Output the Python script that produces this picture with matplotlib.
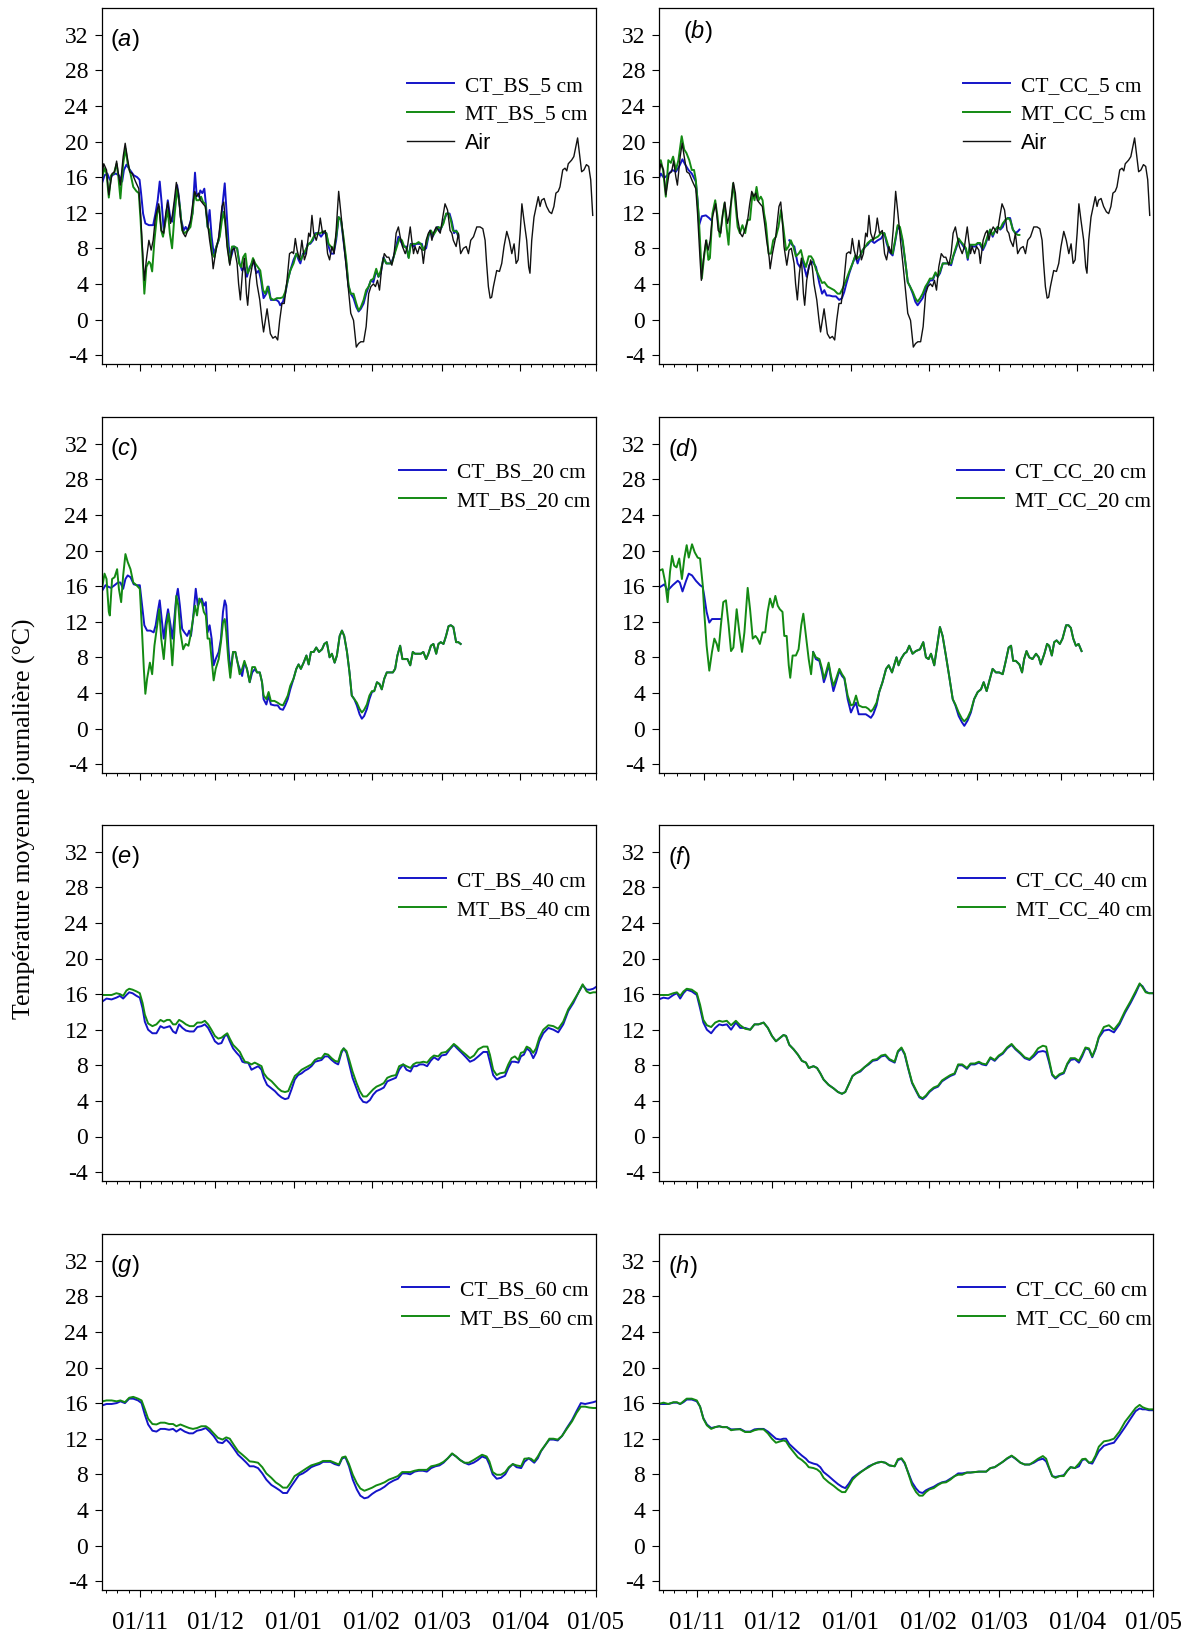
import matplotlib
matplotlib.use('Agg')
import matplotlib.pyplot as plt
import numpy as np

plt.rcParams['font.family'] = 'Liberation Serif'
plt.rcParams['mathtext.fontset'] = 'custom'
plt.rcParams['mathtext.rm'] = 'Liberation Sans'
plt.rcParams['mathtext.it'] = 'Liberation Sans:italic'

# x = days since 01/11
month_pos = [0, 30, 61, 92, 120, 151, 181]
month_lab = ['01/11', '01/12', '01/01', '01/02', '01/03', '01/04', '01/05']
ytick_vals = [-4, 0, 4, 8, 12, 16, 20, 24, 28, 32]

# ---- air temperature (panels a, b)
air_day = [-14.9,-14.3,-13.2,-12.3,-11.0,-10.0,-9.2,-8.3,-7.7,-6.6,
           -5.8,-5.0,-4.0,-3.0,-1.7,-0.4,0.3,1.3,1.8,2.6,
           3.6,4.5,5.3,6.2,7.5,8.5,9.5,10.3,11.1,12.2,
           12.9,13.7,14.5,15.3,16.1,17.2,18.1,19.0,20.1,21.0,
           21.8,22.5,23.4,24.0,25.1,26.0,26.9,27.7,28.7,29.1,
           30.0,31.3,32.6,33.3,33.9,34.6,35.7,36.6,37.5,38.6,
           39.2,39.9,40.7,41.5,42.3,42.8,43.6,44.5,45.2,45.8,
           46.5,47.6,48.5,49.1,49.8,50.5,51.1,51.8,52.8,53.8,
           54.7,55.5,56.4,57.3,58.4,59.4,60.4,61.0,61.7,62.4,
           63.4,64.3,65.3,66.1,67.0,67.6,68.3,69.0,70.0,71.0,
           71.6,72.5,73.6,74.5,75.3,76.2,77.1,77.9,78.9,79.8,
           80.8,81.9,82.8,83.7,84.8,85.9,86.8,87.7,88.8,89.8,
           90.8,91.7,92.7,93.5,94.3,95.1,96.0,97.0,98.0,98.8,
           100.0,100.9,101.7,102.6,103.3,104.2,105.3,106.2,107.3,107.9,
           108.6,109.2,110.2,111.0,111.9,112.5,113.6,114.5,115.2,115.9,
           116.5,117.6,118.5,119.2,120.2,121.1,122.1,123.1,123.8,124.4,
           125.5,126.4,127.3,128.4,129.5,130.4,131.3,132.4,133.7,135.0,
           136.1,137.0,137.6,138.3,139.0,139.6,140.3,141.6,142.7,143.6,
           144.5,145.6,146.6,147.6,148.5,149.3,150.1,150.9,151.6,152.4,
           153.5,154.3,154.8,155.5,156.4,157.5,158.1,158.8,159.4,160.4,
           161.4,162.5,163.4,164.3,165.1,166.0,166.7,167.8,168.7,169.4,
           170.0,171.3,172.2,173.0,173.7,174.4,175.3,176.2,177.2,178.1,
           178.9,179.7]
air_temp = [16.4,17.5,16.8,14.0,16.4,16.6,17.8,16.0,15.1,18.3,
            19.8,18.3,16.6,16.4,15.5,14.7,11.9,6.7,4.4,6.7,
            8.9,7.8,8.9,11.5,13.0,10.0,9.7,11.9,13.2,10.8,
            11.7,13.4,15.4,14.2,11.5,9.7,9.3,10.0,11.0,13.0,
            14.4,13.8,14.2,13.4,13.0,12.7,10.8,8.9,7.0,5.7,
            7.4,9.3,12.7,13.2,11.2,8.2,6.1,7.8,8.0,6.3,
            4.0,2.2,5.2,6.9,2.9,1.6,4.4,5.9,6.7,5.9,
            4.0,2.2,-0.1,-1.4,-0.1,1.2,-0.1,-1.6,-2.1,-1.9,
            -2.3,-0.1,1.8,1.8,4.4,7.4,7.6,7.4,9.1,7.8,
            6.7,8.9,6.7,7.4,9.7,9.3,11.7,9.7,8.9,10.0,
            11.4,9.7,10.0,7.4,6.7,8.2,7.4,10.0,14.4,11.9,
            8.9,5.9,3.3,0.7,-0.1,-3.1,-2.7,-2.5,-2.5,-0.8,
            2.9,3.7,4.0,3.7,4.4,3.3,5.9,7.4,7.0,7.0,
            6.1,7.4,9.7,10.4,9.3,8.2,7.4,8.2,10.4,8.9,
            7.4,8.2,7.4,8.2,7.8,6.3,8.9,9.7,10.0,8.9,
            9.7,10.4,10.0,9.7,11.5,13.0,12.3,10.0,9.7,8.9,
            8.2,9.7,7.4,8.0,8.2,7.4,8.9,9.3,10.4,10.4,
            10.2,8.9,6.3,3.7,2.4,2.5,3.7,5.5,5.4,6.3,
            8.2,9.9,8.9,7.4,8.5,6.3,6.7,9.7,13.0,11.2,
            8.9,5.9,5.2,8.9,11.5,13.0,13.8,12.7,13.4,13.6,
            12.7,12.1,11.9,12.7,14.2,14.4,14.9,16.8,17.0,16.7,
            17.5,17.9,18.3,19.4,20.4,18.7,16.6,16.8,17.4,17.2,
            15.7,11.7]

# ---- (a) bare soil, 5 cm
a_ct_day = [-14.9,-14.0,-12.9,-11.9,-11.0,-9.6,-8.3,-7.0,-6.3,-5.3,
            -4.4,-3.4,-2.4,-1.1,-0.1,0.5,1.3,2.2,3.6,5.3,
            6.2,7.1,7.9,8.7,9.5,10.3,11.1,12.2,12.9,13.7,
            14.8,15.5,16.4,17.4,18.2,19.0,20.1,20.9,21.9,22.5,
            23.4,24.0,24.8,25.6,26.2,26.9,27.7,28.5,29.3,30.4,
            31.3,32.4,33.0,33.7,34.3,35.3,36.2,37.3,38.6,39.6,
            40.6,41.5,42.5,43.6,44.5,45.4,46.2,47.2,48.1,49.1,
            50.2,51.1,52.0,53.1,54.2,55.1,55.7,56.8,57.7,58.7,
            59.7,61.0,62.1,63.0,63.7,64.7,65.7,66.6,67.6,68.7,
            69.6,70.9,71.9,72.9,74.0,74.9,75.8,76.9,77.9,78.9,
            79.8,80.8,81.9,82.8,83.7,84.8,85.9,86.8,87.7,88.8,
            89.8,90.8,91.7,92.7,93.8,94.7,95.6,96.7,97.8,98.7,
            99.6,100.7,101.7,102.6,103.3,104.6,105.7,106.6,107.5,108.6,
            109.6,110.6,111.9,112.5,113.6,114.5,115.2,116.2,117.2,118.1,
            118.9,119.8,120.7,121.8,122.9,123.8,124.7,125.5,126.4]
a_ct = [15.4,16.2,16.4,15.7,16.2,16.4,16.2,15.5,16.8,17.4,
        17.0,16.6,16.2,16.0,15.7,14.2,11.9,10.8,10.6,10.6,
        11.9,13.4,15.5,13.0,10.0,11.5,13.4,11.2,11.0,12.7,
        15.1,13.8,11.2,10.0,10.4,10.0,11.0,11.9,16.5,14.2,
        13.8,14.5,14.2,14.7,13.0,10.4,12.3,9.3,7.4,8.2,
        8.9,11.5,13.4,15.3,12.7,8.2,7.0,8.2,8.0,6.3,
        5.5,5.9,4.8,5.9,6.3,6.3,5.2,5.5,4.4,2.4,
        2.9,3.7,2.2,2.2,2.2,2.0,1.6,2.0,2.9,4.4,
        5.5,6.7,7.4,6.7,6.3,7.4,7.4,8.5,8.5,8.9,
        9.7,9.7,9.3,9.7,9.7,8.2,7.4,7.4,8.9,11.5,
        11.2,8.9,6.3,3.7,2.9,2.4,1.4,0.9,1.2,1.8,
        2.9,3.7,4.4,4.2,5.5,4.8,5.2,7.0,6.3,6.3,
        6.3,7.0,8.2,9.3,8.9,8.2,8.2,7.0,8.5,8.2,
        8.5,8.5,8.5,7.8,8.0,9.3,10.0,9.3,10.0,10.4,
        9.9,10.4,11.2,11.9,11.9,11.0,9.7,10.0,9.3]
a_mt_day = [-14.9,-14.0,-13.2,-12.3,-11.4,-10.3,-9.2,-8.5,-7.7,-6.6,
            -5.7,-4.8,-3.7,-2.6,-1.3,-0.4,0.3,1.1,1.8,2.6,
            3.6,4.2,4.9,5.8,6.9,7.7,8.5,9.2,10.3,11.1,
            11.9,12.8,13.7,14.8,15.9,16.8,17.8,19.0,20.1,20.9,
            21.7,22.5,23.4,24.3,25.1,26.0,26.9,27.7,28.7,29.6,
            30.4,31.7,32.6,33.3,33.9,34.9,35.7,36.6,37.5,38.6,
            39.4,40.2,41.0,41.9,42.8,43.9,44.9,45.8,46.8,47.8,
            48.9,49.8,50.7,51.8,53.1,54.4,55.7,56.8,57.7,58.7,
            59.7,61.0,62.1,63.0,63.9,65.0,66.1,67.0,67.9,69.0,
            70.3,71.6,72.9,74.0,74.9,75.8,76.9,77.9,78.9,79.8,
            80.8,81.9,82.8,83.7,84.8,85.9,86.8,87.7,88.8,89.8,
            90.8,91.7,92.7,93.8,94.7,95.6,96.7,97.8,98.7,100.0,
            100.9,102.0,103.0,104.0,104.9,105.9,106.7,107.5,108.6,109.6,
            110.6,111.5,112.5,113.6,114.5,115.5,116.5,117.6,118.5,119.4,
            120.5,121.5,122.5,123.4,124.2,125.1,125.8,126.4]
a_mt = [16.0,17.0,16.4,13.7,16.2,16.4,17.5,16.0,13.6,17.5,
        19.2,17.5,16.4,14.9,14.4,14.2,11.2,7.0,2.9,5.9,
        6.5,6.3,5.4,8.9,11.9,12.7,10.0,9.3,11.2,12.3,
        9.7,8.0,11.5,14.7,12.7,10.0,9.7,10.0,10.4,11.9,
        14.2,13.4,13.4,13.8,13.2,13.0,10.4,10.0,7.4,7.0,
        8.2,9.3,11.2,12.1,10.8,8.2,6.3,8.2,8.2,8.0,
        6.3,5.9,7.0,7.4,5.2,5.9,6.9,6.3,5.9,5.5,
        3.3,2.9,3.7,2.4,2.2,2.4,2.4,2.5,3.1,4.4,
        5.5,6.3,7.4,7.0,6.7,7.4,8.0,8.5,8.7,9.3,
        9.7,9.7,9.9,9.7,8.5,8.2,7.8,9.3,11.5,11.2,
        9.3,6.7,3.9,2.9,2.9,1.8,1.0,1.4,2.2,3.3,
        3.7,4.4,4.6,5.7,4.8,5.5,6.9,6.3,6.3,6.3,
        7.2,8.2,9.1,8.9,8.2,8.0,6.9,8.4,8.5,8.5,
        8.7,8.5,7.8,8.4,9.5,10.0,9.5,10.0,10.4,10.2,
        10.8,11.9,11.9,11.2,10.0,9.9,9.9,9.5]

# ---- (b) cover crop, 5 cm  (nan = missing record)
b_ct_day = [-15.2,-14.3,-13.0,-11.7,-10.7,-9.7,-8.3,-7.0,-5.7,-4.6,
            -3.3,-2.0,-0.4,0.3,0.9,2.0,3.6,4.9,5.6,20.0,
            36.7,37.7,38.7,40.0,40.9,42.0,42.6,43.6,44.6,45.9,
            47.3,48.6,49.7,50.6,51.5,52.6,53.9,55.2,56.5,57.6,
            58.5,59.4,60.5,61.8,62.9,63.8,64.7,65.8,66.9,67.8,
            69.1,70.4,71.8,73.1,74.4,75.3,76.4,77.7,78.8,79.7,
            80.6,81.7,82.8,83.7,84.6,85.7,86.7,87.6,88.6,89.6,
            90.7,91.6,92.5,93.6,94.7,95.6,96.5,97.6,98.6,100.0,
            100.9,101.8,102.9,103.9,104.9,105.8,106.8,107.5,108.4,109.5,
            110.6,111.5,112.4,113.5,114.5,115.5,116.4,117.4,118.5,119.4,
            120.4,121.4,122.5,123.4,124.3,125.4,126.4,127.4,128.0]
b_ct = [15.7,16.4,15.9,16.2,16.5,16.8,16.6,17.2,18.0,17.4,
        16.8,16.4,15.5,13.4,10.6,11.6,11.7,11.4,11.2,np.nan,
        8.9,8.4,8.2,6.3,5.9,6.7,5.9,4.8,6.1,6.5,
        5.9,4.1,2.9,3.3,2.7,2.7,2.6,2.6,2.2,2.4,
        3.1,4.1,5.2,6.3,7.1,6.3,7.1,7.8,8.2,8.4,
        8.9,8.6,8.9,9.1,9.7,8.6,7.6,7.2,8.9,10.4,
        10.1,8.6,6.3,4.2,3.7,2.9,2.0,1.6,2.0,2.4,
        3.3,3.9,4.4,4.4,5.2,4.8,5.2,6.3,6.3,6.3,
        6.1,7.1,8.0,8.9,8.6,8.2,7.8,6.7,8.4,8.2,
        8.2,8.6,8.4,7.8,8.4,9.3,10.1,9.3,10.1,10.4,
        10.1,10.4,11.2,11.4,11.4,10.1,9.7,9.9,10.1]
b_mt_day = [-15.2,-14.3,-13.4,-12.3,-11.3,-10.3,-9.4,-8.3,-7.3,-6.0,
            -5.0,-4.1,-3.0,-2.0,-1.1,-0.4,0.7,1.6,2.0,2.9,
            3.8,4.6,5.2,6.2,7.3,8.2,9.1,10.2,11.0,11.8,
            12.6,13.5,14.4,15.2,16.2,17.1,18.1,19.2,20.1,21.1,
            22.1,22.9,23.7,24.5,25.4,26.1,26.7,27.4,28.5,29.4,
            30.3,31.4,32.4,33.4,34.3,35.4,36.4,37.3,38.3,39.3,
            40.4,41.3,42.2,43.3,44.4,45.3,46.2,47.3,48.6,49.7,
            50.6,51.9,53.2,54.5,55.9,56.8,57.9,59.2,60.5,61.8,
            62.9,63.8,64.7,65.8,66.9,67.8,69.1,70.4,71.8,73.1,
            74.4,75.3,76.4,77.7,78.8,79.7,80.6,81.7,82.8,83.7,
            84.6,85.7,86.7,87.6,88.6,89.6,90.7,91.6,92.5,93.6,
            94.7,95.6,96.5,97.6,98.6,100.0,100.9,101.8,102.9,103.9,
            104.9,105.8,106.8,107.5,108.4,109.5,110.6,111.5,112.4,113.5,
            114.5,115.5,116.4,117.4,118.5,119.4,120.4,121.4,122.5,123.4,
            124.3,125.4,126.4,127.4,128.0]
b_mt = [17.4,17.9,16.8,13.8,17.9,17.6,18.3,16.8,17.9,20.6,
        19.1,18.7,17.9,16.8,16.8,15.7,11.9,7.1,4.6,7.1,
        8.9,6.7,6.9,11.9,13.4,11.6,9.3,11.6,13.1,10.4,
        8.4,12.7,15.3,13.4,10.4,9.7,10.6,9.7,11.2,11.2,
        14.2,13.4,14.9,13.4,13.8,13.4,11.9,10.8,7.4,7.4,
        8.9,9.3,10.4,12.3,10.4,7.8,8.2,8.9,8.2,7.1,
        7.4,7.8,6.7,5.9,7.1,7.1,6.7,5.6,4.8,4.1,
        4.2,3.7,3.5,3.3,2.9,2.9,3.5,4.4,5.4,6.3,
        7.2,6.9,7.1,7.8,8.2,8.6,8.9,9.1,9.3,9.7,
        9.7,8.9,7.8,7.4,9.1,10.6,10.4,8.9,6.3,4.2,
        3.7,3.1,2.4,2.0,2.4,2.9,3.7,4.1,4.6,4.6,
        5.3,4.8,5.4,6.3,6.3,6.3,6.3,7.2,8.2,9.1,
        8.7,8.4,8.0,6.9,8.4,8.4,8.4,8.6,8.6,8.0,
        8.6,9.5,10.1,9.5,10.1,10.4,10.2,10.8,11.2,11.4,
        11.2,10.1,9.7,9.5,9.5]

# ---- (c) bare soil, 20 cm
c_ct_day = [-14.9,-13.6,-12.3,-11.4,-10.0,-8.7,-7.7,-6.6,-5.7,-4.8,
            -3.7,-2.4,-1.1,0.0,0.9,1.8,2.9,4.2,5.5,6.3,
            7.1,7.9,8.7,9.5,10.3,11.2,12.2,12.9,13.7,14.4,
            15.1,15.9,16.8,17.7,18.8,19.6,20.3,21.1,22.2,23.0,
            23.8,24.6,25.4,26.2,26.9,27.7,28.5,29.3,30.1,31.3,
            32.2,33.0,33.7,34.3,35.1,35.9,37.0,37.9,38.8,39.6,
            40.6,41.5,42.5,43.6,44.6,45.7,46.5,47.6,48.5,49.1,
            50.2,51.1,52.0,53.4,54.7,55.7,56.8,57.7,58.7,59.7,
            61.0,62.1,63.0,63.9,65.0,66.1,67.0,67.9,69.0,70.0,
            71.1,72.3,73.2,74.2,75.3,76.2,77.3,78.2,79.3,80.2,
            81.1,82.2,83.2,84.1,85.1,86.1,87.2,88.1,89.0,90.1,
            91.1,92.1,93.0,94.1,95.1,96.0,97.0,98.0,99.1,100.4,
            101.3,102.2,103.3,104.2,105.3,106.2,107.3,108.3,109.2,110.6,
            111.5,112.5,113.6,114.5,115.5,116.5,117.6,118.5,119.4,120.5,
            121.5,122.5,123.4,124.4,125.5,126.4,127.3]
c_ct = [15.5,16.1,15.9,15.8,16.1,16.4,16.4,15.7,16.8,17.2,
        17.0,16.2,16.1,16.1,13.8,11.6,11.0,11.0,10.8,11.6,
        13.1,14.4,12.3,10.1,11.9,13.4,11.6,10.1,12.3,14.6,
        15.7,13.8,11.2,10.8,10.4,11.0,10.4,12.3,15.7,13.8,
        14.2,14.6,13.8,14.2,10.8,11.6,10.1,7.1,7.8,8.6,
        10.1,13.1,14.4,13.8,9.3,6.3,8.6,8.6,7.4,6.7,
        5.9,7.4,6.7,5.2,6.3,6.7,6.3,6.3,5.2,3.3,
        2.7,3.7,2.7,2.6,2.6,2.2,2.1,2.6,3.3,4.4,
        5.6,6.7,7.2,6.7,7.4,8.2,7.2,8.6,8.6,9.1,
        8.6,8.9,9.5,9.7,8.0,8.4,7.4,8.2,10.4,11.0,
        10.4,8.6,6.3,3.7,3.3,2.6,1.6,1.1,1.4,2.2,
        3.3,4.1,4.2,5.2,5.0,4.4,5.6,6.3,6.3,6.3,
        6.7,8.2,9.3,7.8,7.8,7.8,7.1,8.6,8.4,8.4,
        8.4,8.6,7.8,8.4,9.3,9.5,8.4,9.5,9.7,9.5,
        10.4,11.5,11.6,11.4,9.7,9.7,9.5]
c_mt_day = [-14.9,-14.0,-13.2,-12.3,-11.9,-11.0,-10.0,-9.0,-8.3,-7.4,
            -6.6,-5.7,-4.8,-3.7,-2.6,-1.3,0.0,0.9,1.6,2.2,
            2.9,4.0,4.9,5.8,6.9,7.7,8.5,9.5,10.6,11.4,
            12.2,12.9,13.7,14.5,15.3,16.1,17.2,18.2,19.3,20.1,
            20.9,21.9,22.7,23.6,24.6,25.4,26.2,26.9,27.7,28.5,
            29.3,30.1,31.3,32.2,33.0,33.7,34.3,35.1,35.9,37.0,
            37.9,38.8,39.6,40.6,41.5,42.5,43.6,44.6,45.7,46.5,
            47.6,48.5,49.1,50.2,51.1,52.0,53.4,54.7,55.7,56.8,
            57.7,58.7,59.7,
            61.0,62.1,63.0,63.9,65.0,66.1,67.0,67.9,69.0,70.0,
            71.1,72.3,73.2,74.2,75.3,76.2,77.3,78.2,79.3,80.2,
            81.1,82.2,83.2,84.1,85.1,86.1,87.2,88.1,89.0,90.1,
            91.1,92.1,93.0,94.1,95.1,96.0,97.0,98.0,99.1,100.4,
            101.3,102.2,103.3,104.2,105.3,106.2,107.3,108.3,109.2,110.6,
            111.5,112.5,113.6,114.5,115.5,116.5,117.6,118.5,119.4,120.5,
            121.5,122.5,123.4,124.4,125.5,126.4,127.3]
c_mt = [15.9,17.4,16.8,13.1,12.7,16.8,17.0,17.9,15.7,14.2,
        17.2,19.6,18.7,17.9,16.4,16.1,15.7,10.8,6.7,3.9,
        5.6,7.4,6.1,9.3,11.6,13.4,10.1,7.8,11.6,12.9,
        10.1,7.1,10.8,14.9,13.8,10.8,8.9,9.5,9.3,10.4,
        11.9,13.8,12.7,14.6,14.2,13.1,12.7,10.1,10.1,7.8,
        5.4,6.7,7.8,9.7,11.9,12.3,10.8,7.8,5.7,8.6,
        8.6,7.4,6.1,6.7,7.6,6.7,5.2,6.9,6.9,6.3,
        6.3,5.2,3.7,3.3,4.1,3.1,3.1,2.9,2.7,2.6,
        3.1,3.7,4.8,
        5.6,6.7,7.2,6.7,7.4,8.2,7.2,8.6,8.6,9.1,
        8.6,8.9,9.5,9.7,8.0,8.4,7.4,8.2,10.4,11.0,
        10.4,8.6,6.3,3.7,3.3,2.9,2.2,1.8,2.1,2.7,
        3.7,4.2,4.2,5.2,5.0,4.4,5.6,6.3,6.3,6.3,
        6.7,8.2,9.3,7.8,7.8,7.8,7.1,8.6,8.4,8.4,
        8.4,8.6,7.8,8.4,9.3,9.5,8.4,9.5,9.7,9.5,
        10.4,11.5,11.6,11.4,9.7,9.7,9.5]

# ---- (d) cover crop, 20 cm  (nan = missing record)
d_ct_day = [-15.1,-13.2,-12.1,-10.4,-8.7,-8.0,-7.1,-5.9,-5.0,-3.9,
            -2.6,-1.2,-0.3,0.2,1.0,1.9,2.8,4.1,5.8,20.0,
            36.8,37.7,38.9,39.8,40.4,41.1,42.0,42.8,43.6,44.5,
            45.6,46.5,47.3,48.4,49.5,50.3,51.2,52.1,53.4,54.5,
            55.4,56.2,57.0,58.1,59.0,60.1,61.3,62.2,63.3,64.1,
            64.8,65.5,66.3,67.4,68.2,69.1,70.2,71.3,72.7,73.8,
            74.7,75.6,76.4,77.5,78.3,79.4,80.3,81.4,82.5,83.7,
            84.6,85.7,86.8,87.6,88.7,89.8,90.9,92.1,93.2,94.1,
            95.1,96.2,97.1,98.2,99.3,100.5,101.4,102.5,103.3,104.0,
            104.9,106.1,107.0,107.7,108.5,109.4,110.5,111.7,112.6,113.3,
            114.5,115.4,116.1,117.0,117.8,118.6,119.7,120.6,121.8,122.6,
            123.4,124.2,125.1,126.0,127.0]
d_ct = [15.8,16.2,15.5,16.1,16.6,16.4,15.4,16.6,17.4,17.2,
        16.6,16.1,15.9,14.9,13.1,11.9,12.3,12.3,12.3,np.nan,
        8.6,7.8,7.6,6.3,5.2,5.9,7.2,5.6,4.2,5.2,
        6.5,5.9,5.6,3.3,1.8,2.4,2.9,1.6,1.6,1.6,
        1.4,1.2,1.6,2.6,4.1,5.2,6.7,7.1,6.3,7.2,
        8.0,7.1,7.8,8.4,8.6,9.3,8.4,8.7,8.9,9.7,
        8.0,7.8,8.4,7.1,8.9,11.4,10.4,8.2,5.9,3.3,
        2.6,1.4,0.7,0.3,0.9,1.8,3.3,4.1,4.4,5.2,
        4.2,5.6,6.7,6.3,6.3,6.1,7.4,9.1,9.3,7.6,
        7.6,7.2,6.3,7.8,8.7,8.0,7.8,8.4,8.0,7.2,
        8.4,9.5,9.3,8.2,9.7,9.9,9.5,10.1,11.6,11.6,
        11.3,10.1,9.3,9.5,8.7]
d_mt_day = [-15.1,-13.8,-12.9,-12.1,-11.3,-10.6,-9.9,-9.1,-8.2,-7.3,
            -6.5,-5.7,-5.0,-3.9,-3.0,-2.0,-1.2,-0.3,0.2,1.0,
            1.9,2.8,3.6,4.4,5.0,5.8,6.6,7.5,8.4,9.2,
            10.0,11.1,12.0,12.9,13.7,14.8,15.6,16.5,17.4,18.1,
            18.9,19.8,20.7,21.5,22.3,23.2,24.1,24.9,25.6,26.5,
            27.1,27.9,28.6,29.1,29.9,31.0,31.9,32.8,33.5,34.4,
            35.3,36.1,36.8,37.7,38.9,39.8,40.4,41.1,42.0,42.8,
            43.6,44.5,45.6,46.5,47.3,48.4,49.5,50.3,51.2,52.1,
            53.4,54.5,55.4,56.2,57.0,58.1,59.0,60.1,
            61.3,62.2,63.3,64.1,64.8,65.5,66.3,67.4,68.2,69.1,
            70.2,71.3,72.7,73.8,74.7,75.6,76.4,77.5,78.3,79.4,
            80.3,81.4,82.5,83.7,84.6,85.7,86.8,87.6,88.7,89.8,
            90.9,92.1,93.2,94.1,95.1,96.2,97.1,98.2,99.3,100.5,
            101.4,102.5,103.3,104.0,104.9,106.1,107.0,107.7,108.5,109.4,
            110.5,111.7,112.6,113.3,114.5,115.4,116.1,117.0,117.8,118.6,
            119.7,120.6,121.8,122.6,123.4,124.2,125.1,126.0,127.0]
d_mt = [17.7,17.9,16.4,14.2,17.6,19.4,18.3,18.1,19.1,16.8,
        19.1,20.6,19.2,20.7,19.8,19.2,19.1,16.1,13.1,9.3,
        6.5,8.6,10.1,9.5,8.7,11.6,14.2,14.4,11.6,8.7,
        9.1,13.4,10.8,8.6,10.8,15.8,13.4,10.1,10.4,10.1,
        9.5,10.8,10.8,13.1,14.6,13.6,14.9,13.8,13.4,13.1,
        10.4,10.4,7.1,5.7,8.2,8.2,8.9,11.6,12.9,10.4,
        7.8,6.1,8.6,8.0,7.8,6.7,5.6,6.3,7.4,5.9,
        4.8,5.6,6.7,6.1,5.7,3.7,2.6,2.7,3.7,2.6,
        2.4,2.4,2.2,1.9,2.2,2.9,4.1,5.2,
        6.7,7.1,6.3,7.2,8.0,7.1,7.8,8.4,8.6,9.3,
        8.4,8.7,8.9,9.7,8.0,7.8,8.4,7.1,8.9,11.4,
        10.4,8.2,5.9,3.3,2.7,1.8,1.1,0.8,1.2,2.0,
        3.3,4.1,4.4,5.2,4.2,5.6,6.7,6.3,6.3,6.1,
        7.4,9.1,9.3,7.6,7.6,7.2,6.3,7.8,8.7,8.0,
        7.8,8.4,8.0,7.2,8.4,9.5,9.3,8.2,9.7,9.9,
        9.5,10.1,11.6,11.6,11.3,10.1,9.3,9.5,8.7]

# ---- (e) bare soil, 40 cm
e_day = [-15.2,-13.2,-11.2,-9.3,-7.9,-6.6,-5.3,-4.2,-2.9,-1.3,
         0.0,1.1,2.0,3.3,5.0,6.6,8.2,9.5,10.8,11.9,
         13.2,14.3,15.6,16.9,18.3,19.8,21.4,22.8,24.5,25.8,
         27.1,28.4,29.8,31.1,32.4,33.7,34.7,35.7,37.0,38.4,
         39.7,40.7,41.7,43.0,44.3,45.6,47.0,48.3,49.2,50.5,
         52.3,53.6,54.9,56.2,57.6,58.9,60.2,61.5,62.8,64.2,
         65.5,66.8,68.1,69.5,70.8,72.1,73.4,74.7,76.1,77.4,
         78.7,80.0,80.9,82.0,83.1,84.4,86.0,87.3,88.6,90.0,
         91.3,92.6,93.9,95.5,96.8,98.2,99.9,101.6,102.9,104.5,
         105.8,107.4,108.5,109.8,111.1,112.5,114.0,115.4,116.7,118.4,
         119.7,121.5,123.0,124.6,125.9,127.7,129.4,131.0,132.6,134.3,
         136.3,137.9,138.9,140.2,141.6,142.9,144.9,146.2,147.5,148.8,
         150.2,151.2,152.4,153.5,154.8,156.1,157.2,158.5,160.1,162.1,
         164.1,166.0,168.0,170.0,172.0,173.9,175.7,177.3,178.6,179.9,
         181.0]
e_ct = [15.1,15.5,15.4,15.6,15.8,15.5,15.9,16.2,16.1,15.8,
        15.6,14.4,12.9,12.0,11.6,11.6,12.4,12.2,12.3,12.4,
        11.8,11.6,12.6,12.2,11.9,11.8,11.8,12.3,12.4,12.6,
        12.2,11.5,10.7,10.4,10.5,11.3,11.4,10.7,9.9,9.4,
        9.0,8.4,8.3,8.3,7.5,7.7,7.9,7.5,6.6,5.8,
        5.4,5.1,4.7,4.4,4.2,4.3,5.3,6.4,6.9,7.1,
        7.4,7.6,7.9,8.4,8.5,8.6,9.0,9.0,8.6,8.3,
        8.1,9.4,9.9,9.4,8.1,6.6,5.4,4.4,3.9,3.8,
        4.1,4.7,5.1,5.3,5.5,6.2,6.4,6.6,7.5,8.1,
        7.5,7.3,7.9,7.9,8.1,8.1,7.9,8.5,8.9,8.6,
        9.1,9.2,9.8,10.3,9.9,9.4,8.9,8.4,8.6,9.0,
        9.5,9.5,8.4,6.9,6.4,6.6,6.8,7.7,8.4,8.4,
        8.3,9.0,9.2,9.9,9.6,8.8,9.4,10.7,11.6,12.2,
        12.0,11.7,12.6,14.1,15.0,16.1,17.0,16.5,16.5,16.6,
        16.8]
e_mt = [15.9,15.9,15.9,16.1,16.0,15.8,16.4,16.6,16.5,16.3,
        16.1,15.0,13.7,12.7,12.4,12.6,13.1,12.9,13.1,13.1,
        12.6,12.6,13.1,12.9,12.6,12.4,12.4,12.8,12.8,13.0,
        12.6,12.0,11.3,11.0,11.1,11.4,11.6,11.0,10.3,9.9,
        9.5,8.9,8.4,8.3,8.1,8.3,8.1,7.9,7.1,6.6,
        6.2,5.8,5.4,5.1,5.0,5.1,6.0,6.8,7.1,7.5,
        7.7,7.9,8.1,8.6,8.8,8.8,9.3,9.2,8.8,8.5,
        8.4,9.6,9.9,9.6,8.6,7.3,6.0,5.1,4.5,4.5,
        4.9,5.3,5.6,5.8,6.0,6.6,6.8,6.9,7.9,8.1,
        7.9,7.7,8.1,8.3,8.3,8.4,8.3,8.8,9.1,9.0,
        9.4,9.5,9.9,10.4,10.1,9.6,9.2,8.8,9.1,9.8,
        10.1,10.1,9.2,7.5,6.9,7.1,7.2,8.1,8.8,9.0,
        8.6,9.4,9.5,10.1,9.9,9.4,9.9,11.1,12.0,12.5,
        12.4,12.1,12.9,14.3,15.2,16.1,17.1,16.3,16.1,16.2,
        16.2]

# ---- (f) and (h) share the same reading days
fh_day = [-15.2,-13.2,-11.3,-9.3,-7.9,-6.6,-5.3,-4.0,-2.0,0.0,
          1.3,2.6,4.0,5.7,7.3,8.9,10.2,11.9,13.6,15.5,
          17.2,19.2,21.2,22.9,24.5,26.5,28.2,29.8,31.4,33.1,
          34.4,35.4,36.7,38.4,40.1,41.7,43.3,44.4,46.3,47.7,
          49.0,50.3,52.3,54.3,56.0,57.6,58.9,60.2,61.8,63.2,
          64.9,66.6,68.2,69.8,71.5,73.2,74.8,76.4,78.5,79.8,
          81.2,82.5,83.8,85.4,87.0,88.3,89.6,90.9,92.3,94.0,
          95.7,97.3,98.9,100.6,102.3,103.7,105.3,107.2,108.6,110.3,
          111.9,113.2,114.8,116.5,118.2,119.8,121.4,123.1,124.9,126.4,
          128.4,130.1,132.0,133.7,135.4,137.3,138.6,139.7,141.0,142.3,
          143.9,145.6,147.0,148.3,150.0,151.6,152.9,154.2,155.6,156.9,
          158.2,159.5,161.5,163.5,165.5,167.7,169.9,172.1,174.1,175.7,
          176.8,178.1,179.4,181.0]
f_ct = [15.4,15.6,15.5,15.9,16.1,15.5,16.1,16.5,16.3,15.9,
        14.4,12.8,12.0,11.6,12.2,12.6,12.5,12.6,12.0,12.8,
        12.2,12.2,12.0,12.6,12.6,12.8,12.2,11.3,10.7,11.1,
        11.4,11.3,10.3,9.8,9.2,8.5,8.3,7.7,7.9,7.7,
        7.1,6.4,5.8,5.4,5.0,4.8,5.0,5.8,6.8,7.1,
        7.3,7.8,8.1,8.5,8.6,9.0,9.1,8.6,8.3,9.5,
        9.9,9.2,7.7,6.0,5.1,4.4,4.2,4.5,5.0,5.4,
        5.6,6.2,6.5,6.8,7.0,8.0,8.0,7.6,8.1,8.1,
        8.3,8.1,8.0,8.8,8.5,9.0,9.3,9.9,10.3,9.8,
        9.3,8.8,8.6,9.0,9.5,9.6,9.5,8.4,6.9,6.5,
        6.9,7.1,8.1,8.6,8.7,8.3,9.0,9.9,9.8,8.9,
        9.8,11.1,11.9,12.0,11.7,12.6,13.9,15.0,16.1,17.1,
        16.9,16.3,16.1,16.1]
f_mt = [15.9,15.9,15.9,16.1,16.2,15.8,16.3,16.6,16.5,16.1,
        14.8,13.1,12.5,12.3,12.8,13.0,12.9,13.0,12.5,13.0,
        12.5,12.1,12.0,12.6,12.6,12.8,12.2,11.3,10.7,11.1,
        11.4,11.3,10.3,9.8,9.2,8.5,8.3,7.7,7.9,7.7,
        7.1,6.4,5.8,5.4,5.0,4.8,5.0,5.8,6.8,7.1,
        7.4,7.8,8.2,8.6,8.7,9.1,9.2,8.7,8.4,9.6,
        10.0,9.3,7.8,6.1,5.2,4.5,4.3,4.6,5.1,5.5,
        5.7,6.3,6.6,6.9,7.1,8.1,8.1,7.7,8.2,8.2,
        8.4,8.2,8.1,8.9,8.6,9.1,9.4,10.0,10.4,9.9,
        9.4,8.9,8.7,9.2,9.9,10.2,10.1,8.7,7.0,6.6,
        7.0,7.2,8.2,8.8,8.8,8.5,9.2,10.0,9.9,9.0,
        9.9,11.2,12.3,12.5,12.0,12.8,14.1,15.2,16.3,17.2,
        16.8,16.2,16.1,16.1]
h_ct = [15.9,15.9,15.9,16.05,16.05,15.9,16.1,16.4,16.4,16.2,
        15.6,14.3,13.6,13.2,13.3,13.4,13.3,13.3,13.05,13.05,
        13.1,12.8,12.8,13.05,13.1,13.1,12.8,12.4,12.0,11.9,
        12.0,12.0,11.4,10.95,10.5,10.1,9.75,9.4,9.2,9.1,
        8.8,8.25,7.8,7.3,6.9,6.6,6.45,6.9,7.6,7.9,
        8.25,8.55,8.9,9.1,9.3,9.4,9.3,9.0,8.9,9.6,
        9.75,9.2,8.25,7.1,6.4,6.0,5.9,6.2,6.4,6.6,
        6.9,7.1,7.2,7.5,7.8,8.1,8.1,8.2,8.2,8.25,
        8.3,8.3,8.3,8.7,8.8,9.1,9.4,9.75,10.05,9.75,
        9.3,9.1,9.1,9.3,9.6,9.75,9.45,8.7,7.8,7.7,
        7.8,7.9,8.4,8.8,8.7,8.9,9.6,9.7,9.3,9.2,
        9.9,10.6,11.2,11.4,11.55,12.4,13.3,14.25,15.1,15.4,
        15.3,15.3,15.2,15.2]
h_mt = [15.9,16.05,15.9,16.1,16.1,15.9,16.2,16.5,16.5,16.3,
        15.6,14.25,13.5,13.1,13.3,13.4,13.3,13.3,12.95,13.05,
        13.05,12.75,12.75,12.95,13.05,13.05,12.6,12.0,11.55,11.7,
        11.8,11.7,11.1,10.5,9.9,9.6,9.2,8.8,8.7,8.55,
        8.25,7.6,7.1,6.7,6.3,6.0,6.0,6.6,7.4,7.8,
        8.2,8.55,8.8,9.1,9.3,9.4,9.3,9.0,8.9,9.7,
        9.8,9.3,8.2,6.8,6.0,5.6,5.6,6.0,6.3,6.45,
        6.8,7.05,7.1,7.4,7.8,7.95,7.95,8.2,8.2,8.25,
        8.3,8.3,8.3,8.7,8.8,9.1,9.4,9.8,10.1,9.8,
        9.3,9.1,9.1,9.4,9.75,10.05,9.75,8.8,7.8,7.6,
        7.8,7.8,8.4,8.8,8.7,9.2,9.7,9.75,9.3,9.4,
        10.1,11.1,11.7,11.8,12.0,12.8,13.9,14.7,15.45,15.8,
        15.55,15.4,15.3,15.3]

# ---- (g) bare soil, 60 cm
g_day = [-14.8,-13.2,-11.2,-9.2,-7.7,-5.9,-4.2,-2.6,-0.7,0.7,
         2.0,3.3,5.0,6.6,8.2,9.9,11.6,13.2,14.5,16.1,
         17.8,19.6,21.1,22.7,24.4,26.2,27.7,29.3,31.0,32.8,
         34.3,35.7,37.3,39.0,40.7,42.3,43.6,45.2,46.9,48.6,
         50.2,52.2,53.9,55.5,56.8,58.4,59.7,61.4,63.1,64.7,
         66.3,68.0,69.7,71.3,72.7,74.2,75.6,77.3,79.0,80.3,
         81.6,83.0,84.5,86.1,87.5,89.1,90.5,92.2,93.8,95.4,
         97.1,98.8,100.7,102.4,104.1,105.7,107.3,109.0,110.7,112.3,
         113.9,115.6,117.3,118.9,120.5,122.2,123.9,125.5,127.1,128.8,
         130.5,132.4,134.1,135.8,137.6,138.7,140.0,141.6,143.3,145.0,
         146.4,148.0,149.5,151.3,152.6,154.3,155.2,156.5,157.9,159.2,
         160.9,162.5,164.1,165.8,167.5,169.4,171.5,173.3,175.0,176.7,
         178.3,179.9,181.0]
g_ct = [15.75,15.9,15.9,16.0,16.2,16.0,16.5,16.5,16.3,16.0,
        14.7,13.6,12.9,12.8,13.1,13.1,13.0,13.1,12.8,13.1,
        12.8,12.6,12.6,12.9,13.0,13.2,12.8,12.3,11.6,11.5,
        11.9,11.5,10.9,10.2,9.75,9.3,8.9,8.9,8.7,8.1,
        7.4,6.8,6.5,6.2,5.9,5.9,6.5,7.2,7.9,8.1,
        8.4,8.8,9.0,9.15,9.4,9.4,9.4,9.15,9.0,9.8,
        9.9,8.9,7.4,6.3,5.6,5.3,5.4,5.8,6.1,6.3,
        6.6,7.0,7.3,7.5,8.1,8.1,8.0,8.3,8.4,8.4,
        8.3,8.7,8.9,9.0,9.3,9.8,10.3,10.0,9.6,9.3,
        9.1,9.3,9.6,10.0,9.8,9.1,8.0,7.5,7.6,8.0,
        8.7,9.15,8.8,8.7,9.4,9.8,9.6,9.3,9.8,10.6,
        11.3,11.9,11.9,11.8,12.3,13.2,14.1,15.1,16.0,15.9,
        16.0,16.1,16.2]
g_mt = [16.2,16.3,16.3,16.2,16.3,16.1,16.6,16.7,16.5,16.3,
        15.3,14.25,13.65,13.6,13.8,13.8,13.65,13.65,13.4,13.6,
        13.4,13.2,13.1,13.2,13.4,13.4,13.1,12.6,12.1,11.9,
        12.15,12.0,11.3,10.6,10.2,9.8,9.45,9.4,9.3,8.8,
        8.1,7.6,7.1,6.8,6.5,6.5,7.0,7.8,8.1,8.4,
        8.7,9.0,9.15,9.3,9.5,9.5,9.5,9.3,9.1,9.9,
        10.0,9.15,7.95,7.0,6.4,6.15,6.3,6.5,6.75,6.9,
        7.1,7.4,7.6,7.8,8.25,8.25,8.25,8.4,8.5,8.5,
        8.5,8.9,9.0,9.15,9.4,9.8,10.35,10.0,9.6,9.3,
        9.3,9.6,9.9,10.2,10.0,9.45,8.25,7.95,7.95,8.25,
        8.8,9.15,9.0,8.9,9.75,9.8,9.75,9.45,10.0,10.65,
        11.3,12.0,12.0,11.9,12.3,13.1,13.95,14.9,15.6,15.6,
        15.5,15.45,15.45]

BLUE = '#1414c8'
GREEN = '#138a13'
BLACK = '#111111'

fig = plt.figure(figsize=(11.86, 16.37), dpi=100)
W, H = 1186.0, 1637.0
col_left = [102, 659]
row_top = [8, 417, 825, 1234]
ax_w, ax_h = 494, 356

panels = [
    # letter, row, col, series, xmax, label pos, legend anchor
    ('a', 0, 0, [(a_ct_day, a_ct, BLUE, 'CT_BS_5 cm'), (a_mt_day, a_mt, GREEN, 'MT_BS_5 cm'),
                 (air_day, air_temp, BLACK, 'Air')], 181, (0.016, 0.91), (0.617, 0.81)),
    ('b', 0, 1, [(b_ct_day, b_ct, BLUE, 'CT_CC_5 cm'), (b_mt_day, b_mt, GREEN, 'MT_CC_5 cm'),
                 (air_day, air_temp, BLACK, 'Air')], 181, (0.049, 0.933), (0.615, 0.81)),
    ('c', 1, 0, [(c_ct_day, c_ct, BLUE, 'CT_BS_20 cm'), (c_mt_day, c_mt, GREEN, 'MT_BS_20 cm')],
     181, (0.016, 0.91), (0.601, 0.873)),
    ('d', 1, 1, [(d_ct_day, d_ct, BLUE, 'CT_CC_20 cm'), (d_mt_day, d_mt, GREEN, 'MT_CC_20 cm')],
     151, (0.018, 0.91), (0.603, 0.873)),
    ('e', 2, 0, [(e_day, e_ct, BLUE, 'CT_BS_40 cm'), (e_day, e_mt, GREEN, 'MT_BS_40 cm')],
     181, (0.016, 0.91), (0.601, 0.871)),
    ('f', 2, 1, [(fh_day, f_ct, BLUE, 'CT_CC_40 cm'), (fh_day, f_mt, GREEN, 'MT_CC_40 cm')],
     181, (0.018, 0.91), (0.605, 0.871)),
    ('g', 3, 0, [(g_day, g_ct, BLUE, 'CT_BS_60 cm'), (g_day, g_mt, GREEN, 'MT_BS_60 cm')],
     181, (0.016, 0.91), (0.607, 0.871)),
    ('h', 3, 1, [(fh_day, h_ct, BLUE, 'CT_CC_60 cm'), (fh_day, h_mt, GREEN, 'MT_CC_60 cm')],
     181, (0.018, 0.91), (0.605, 0.871)),
]

month_edges = [-31] + month_pos
for letter, r, c, series, xmax, lab_xy, leg_xy in panels:
    ax = fig.add_axes([col_left[c] / W, 1 - (row_top[r] + ax_h) / H, ax_w / W, ax_h / H])
    for days, temps, color, lab in series:
        lw = 1.0 if color == BLACK else 1.4
        ax.plot(days, temps, color=color, lw=lw, label=lab)
    ax.set_xlim(-15, xmax)
    ax.set_ylim(-5, 35)
    ax.set_yticks(ytick_vals)
    ax.set_yticklabels([str(v) for v in ytick_vals], fontsize=17,
                       fontfamily='Liberation Serif')
    major = [m for m in month_pos if m <= xmax]
    ax.set_xticks(major)
    minor = []
    for s, e in zip(month_edges[:-1], month_edges[1:]):
        minor += [s + (e - s) * k / 7.0 for k in range(1, 7)]
    ax.set_xticks([m for m in minor if -15 < m < xmax], minor=True)
    if r == 3:
        ax.set_xticklabels(month_lab[:len(major)], fontsize=18, fontfamily='Liberation Serif')
    else:
        ax.set_xticklabels([])
    ax.tick_params(axis='both', which='major', direction='out', length=5, width=0.8,
                   top=False, right=False)
    ax.tick_params(axis='x', which='major', pad=11)
    ax.tick_params(axis='y', which='major', pad=5)
    ax.tick_params(axis='x', which='minor', direction='out', length=2.5, width=0.7)
    for sp in ax.spines.values():
        sp.set_linewidth(0.9)
    ax.text(lab_xy[0], lab_xy[1], r'$(\mathit{' + letter + r'})$', transform=ax.transAxes,
            fontsize=17, va='center', ha='left')
    leg = ax.legend(loc='upper left', bbox_to_anchor=leg_xy, frameon=False, fontsize=15.5,
                    handlelength=2.2, handletextpad=0.5, labelspacing=0.4,
                    borderpad=0, borderaxespad=0)
    for t in leg.get_texts():
        if t.get_text() == 'Air':
            t.set_fontfamily('Liberation Sans')

fig.text(0.021, 0.5, 'Température moyenne journalière (°C)', rotation=90,
         ha='center', va='center', fontsize=18.5)

fig.savefig('out.png', dpi=100)
